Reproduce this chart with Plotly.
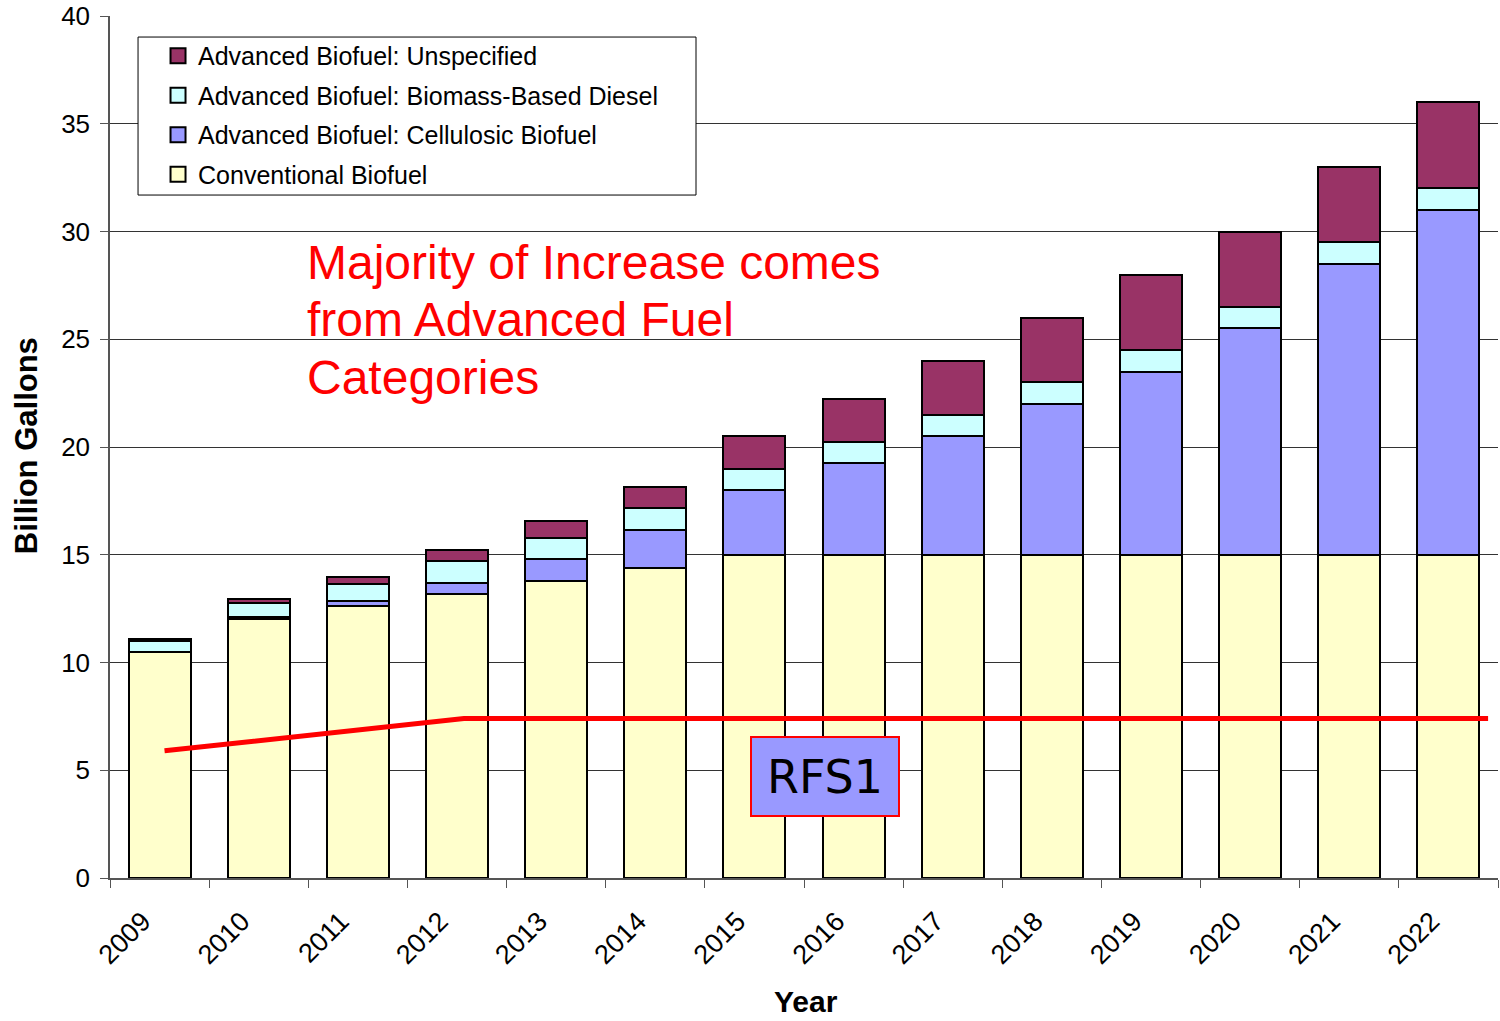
import plotly.graph_objects as go

years = list(range(2009, 2023))
conventional = [10.5, 12.0, 12.6, 13.2, 13.8, 14.4, 15.0, 15.0, 15.0, 15.0, 15.0, 15.0, 15.0, 15.0]
cellulosic = [0.0, 0.1, 0.25, 0.5, 1.0, 1.75, 3.0, 4.25, 5.5, 7.0, 8.5, 10.5, 13.5, 16.0]
biomass_diesel = [0.5, 0.65, 0.8, 1.0, 1.0, 1.0, 1.0, 1.0, 1.0, 1.0, 1.0, 1.0, 1.0, 1.0]
unspecified = [0.1, 0.2, 0.3, 0.5, 0.75, 1.0, 1.5, 2.0, 2.5, 3.0, 3.5, 3.5, 3.5, 4.0]

rfs1_years = [2009.05, 2012.07, 2022.4]
rfs1_values = [5.9, 7.4, 7.4]

note_lines = ["Majority of Increase comes", "from Advanced Fuel", "Categories"]

series = [
    ("Conventional Biofuel", conventional, "#FFFFCC"),
    ("Advanced Biofuel: Cellulosic Biofuel", cellulosic, "#9999FF"),
    ("Advanced Biofuel: Biomass-Based Diesel", biomass_diesel, "#CCFFFF"),
    ("Advanced Biofuel: Unspecified", unspecified, "#993366"),
]

fig = go.Figure()
n = len(series)
for i, (name, vals, col) in enumerate(series):
    fig.add_trace(go.Bar(
        x=years, y=vals, name=name, width=0.625, legendgroup=f"g{i}",
        showlegend=False,
        marker=dict(color=col, line=dict(color="black", width=2)),
    ))
    # legend swatch (square with black border, like the original legend keys)
    fig.add_trace(go.Scatter(
        x=[None], y=[None], mode="markers", name=name, legendgroup=f"g{i}",
        legendrank=n - i,
        marker=dict(symbol="square", size=15, color=col, line=dict(color="black", width=2)),
    ))

fig.add_trace(go.Scatter(
    x=rfs1_years, y=rfs1_values, mode="lines",
    line=dict(color="#FF0000", width=5), showlegend=False, hoverinfo="skip",
))

font = "Liberation Sans, Arial, sans-serif"

annotations = []
for k, line in enumerate(note_lines):
    annotations.append(dict(
        x=2010.47, y=29.9 - 2.67 * k, xref="x", yref="y", xanchor="left", yanchor="top",
        text=line, showarrow=False, align="left",
        font=dict(size=48, color="#FF0000", family=font),
    ))
annotations += [
    dict(
        x=2015.71, y=4.73, xref="x", yref="y",
        text="RFS1", showarrow=False,
        font=dict(size=46, color="black", family="DejaVu Sans, sans-serif"),
        bgcolor="#9999FF", bordercolor="#FF0000", borderwidth=2,
        width=144, height=75,
    ),
    dict(
        x=0.5014, y=-0.1427, xref="paper", yref="paper", xanchor="center", yanchor="middle",
        text="<b>Year</b>", showarrow=False, font=dict(size=30, family=font, color="black"),
    ),
    dict(
        x=-0.0605, y=0.501, xref="paper", yref="paper", xanchor="center", yanchor="middle",
        text="<b>Billion Gallons</b>", showarrow=False, textangle=-90,
        font=dict(size=31, family=font, color="black"),
    ),
]

shapes = [
    dict(type="rect", xref="paper", yref="paper", x0=0.0202, x1=0.4222, y0=0.7923, y1=0.9756,
         fillcolor="white", line=dict(color="black", width=1), layer="above"),
]

fig.update_layout(
    barmode="stack",
    width=1500, height=1021,
    margin=dict(l=110, r=2, t=16, b=143, autoexpand=False),
    plot_bgcolor="white", paper_bgcolor="white",
    font=dict(family=font, size=25, color="black"),
    bargap=0,
    legend=dict(
        x=0.0346, y=0.9803, xanchor="left", yanchor="top",
        traceorder="grouped",
        bgcolor="rgba(0,0,0,0)", borderwidth=0,
        font=dict(size=25, family=font),
        itemsizing="trace",
        tracegroupgap=4,
    ),
    xaxis=dict(
        range=[2008.5, 2022.5], automargin=False,
        tickvals=[y - 0.17 for y in years], ticktext=[str(y) for y in years],
        tickangle=-45, ticks="", ticklen=0, ticklabelstandoff=15,
        showgrid=False, showline=True, linecolor="#555555", linewidth=1.5,
        tickfont=dict(size=27, family=font),
        minor=dict(ticks="outside", tick0=2008.5, dtick=1, ticklen=8, tickcolor="#555555", showgrid=False),
    ),
    yaxis=dict(
        range=[0, 40], tickvals=list(range(0, 41, 5)), automargin=False,
        ticks="outside", ticklen=8, tickcolor="#555555", ticklabelstandoff=5,
        showgrid=True, gridcolor="#333333", gridwidth=1,
        showline=True, linecolor="#555555", linewidth=1.5,
        tickfont=dict(size=26, family=font),
        zeroline=False,
    ),
    annotations=annotations,
    shapes=shapes,
)

fig.write_html("out.html", config={"displayModeBar": False},
               post_script="document.body.style.margin='0';")
